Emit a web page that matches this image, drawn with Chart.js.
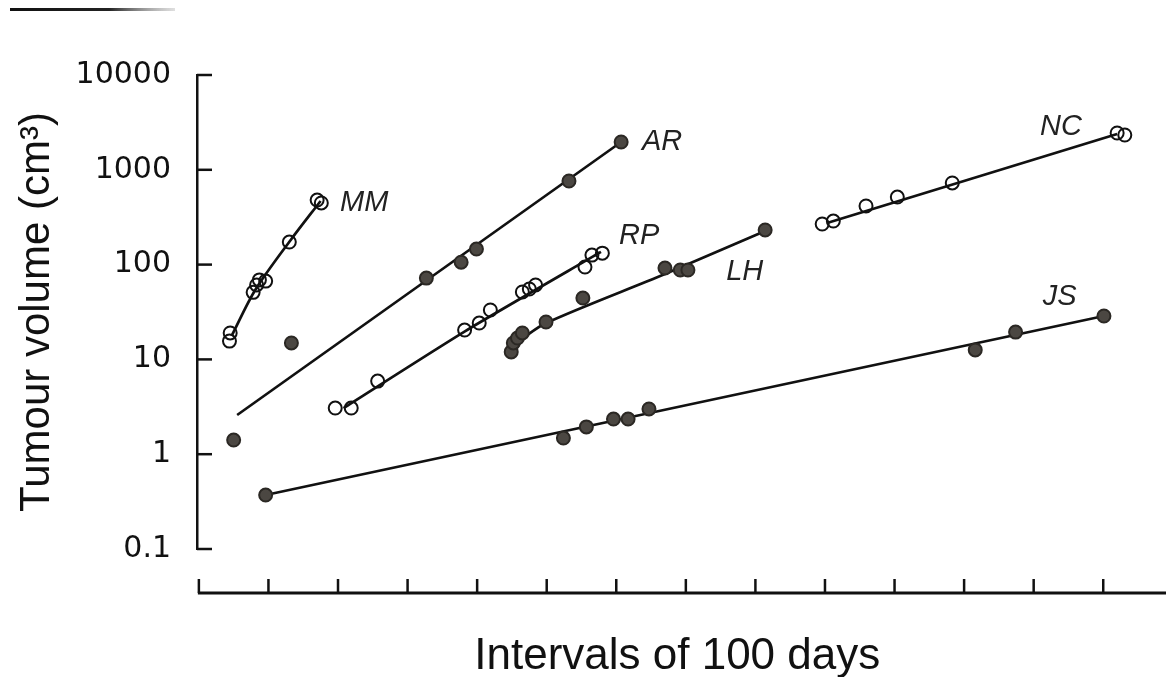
<!DOCTYPE html>
<html>
<head>
<meta charset="utf-8">
<title>Tumour volume</title>
<script src="https://cdn.jsdelivr.net/npm/chart.js@4.4.1/dist/chart.umd.min.js"></script>
<style>
  body { margin: 0; background: #fff; }
</style>
</head>
<body>
<canvas id="tumourChart" width="1166" height="677"></canvas>
<script>
// x in intervals of 100 days, y in cm3
var mmDays = [0.44, 0.45, 0.78, 0.83, 0.87, 0.96, 1.30, 1.70, 1.76];
var mmVol = [15.6, 19, 51, 61, 69, 67, 173, 480, 447];
var mmFitDays = [0.47, 0.81, 1.32, 1.75];
var mmFitVol = [17.7, 54, 182, 469];

var arDays = [0.50, 1.33, 3.27, 3.77, 3.99, 5.32, 6.07];
var arVol = [1.41, 14.9, 72, 106, 146, 762, 1964];
var arFitDays = [0.55, 6.07];
var arFitVol = [2.59, 1964];

var rpDays = [1.96, 2.19, 2.57, 3.82, 4.03, 4.19, 4.65, 4.75, 4.84, 5.55, 5.65, 5.80];
var rpVol = [3.07, 3.07, 5.9, 20.4, 24.2, 33.2, 51.4, 55.3, 61, 94.3, 126, 132];
var rpFitDays = [2.08, 3.83, 5.78];
var rpFitVol = [3.07, 19.9, 136];

var lhDays = [4.49, 4.52, 4.58, 4.65, 4.99, 5.52, 6.70, 6.92, 7.03, 8.14];
var lhVol = [12.0, 14.9, 16.8, 19.0, 24.8, 44.4, 92, 87.7, 87.7, 232];
var lhFitDays = [4.62, 4.99, 6.70, 8.14];
var lhFitVol = [16.0, 24.2, 79.6, 226];

var ncDays = [8.96, 9.12, 9.59, 10.04, 10.83, 13.20, 13.31];
var ncVol = [268, 288, 415, 516, 726, 2445, 2328];
var ncFitDays = [9.03, 13.20];
var ncFitVol = [275, 2385];

var jsDays = [0.96, 5.24, 5.57, 5.96, 6.17, 6.47, 11.16, 11.74, 13.01];
var jsVol = [0.371, 1.48, 1.94, 2.35, 2.35, 3.0, 12.6, 19.4, 28.7];
var jsFitDays = [0.96, 13.01];
var jsFitVol = [0.371, 28.7];

var patientNames = ["MM", "AR", "RP", "LH", "NC", "JS"];
var labelDays = [2.03, 6.37, 6.04, 7.58, 12.09, 12.13];
var labelVol = [447, 1964, 200, 83.6, 2828, 45.5];

var volumeTicks = [0.1, 1, 10, 100, 1000, 10000];
var dayTicks = [0, 1, 2, 3, 4, 5, 6, 7, 8, 9, 10, 11, 12, 13];

function pts(xs, ys) {
  return xs.map(function (x, i) { return { x: x, y: ys[i] }; });
}

function markers(name, xs, ys, filled) {
  return {
    label: name,
    data: pts(xs, ys),
    showLine: false,
    order: 0,
    pointStyle: 'circle',
    pointRadius: 6.5,
    pointBorderWidth: 2,
    pointBackgroundColor: filled ? "#4b4742" : "rgba(0,0,0,0)",
    pointBorderColor: filled ? "#2b2824" : "#111"
  };
}

function fitLine(name, xs, ys, tension) {
  return {
    label: name + " fit",
    data: pts(xs, ys),
    showLine: true,
    order: 1,
    pointRadius: 0,
    borderColor: "#111",
    borderWidth: 2.7,
    tension: tension
  };
}

var axisDecor = {
  id: 'axisDecor',
  afterDraw: function (chart) {
    var ctx = chart.ctx;
    var xs = chart.scales.x;
    var ys = chart.scales.y;
    var left = chart.chartArea.left;
    ctx.save();
    ctx.strokeStyle = "#111";
    ctx.lineWidth = 2.5;
    // y ticks pointing inwards
    volumeTicks.forEach(function (v) {
      var py = ys.getPixelForValue(v);
      ctx.beginPath();
      ctx.moveTo(left, py);
      ctx.lineTo(left + 15, py);
      ctx.stroke();
    });
    // detached x axis below the plot
    var axisY = chart.chartArea.bottom + 44;
    ctx.lineWidth = 3;
    ctx.beginPath();
    ctx.moveTo(xs.getPixelForValue(0) - 1, axisY);
    ctx.lineTo(chart.width, axisY);
    ctx.stroke();
    ctx.lineWidth = 2.5;
    dayTicks.forEach(function (d) {
      var px = xs.getPixelForValue(d);
      ctx.beginPath();
      ctx.moveTo(px, axisY);
      ctx.lineTo(px, axisY - 14);
      ctx.stroke();
    });
    // patient initials
    ctx.font = 'italic 29px "Liberation Sans", Arial, sans-serif';
    ctx.fillStyle = "#222";
    ctx.textAlign = 'left';
    ctx.textBaseline = 'middle';
    patientNames.forEach(function (n, i) {
      ctx.fillText(n, xs.getPixelForValue(labelDays[i]), ys.getPixelForValue(labelVol[i]));
    });
    // rule left over from the page above
    var g = ctx.createLinearGradient(10, 0, 175, 0);
    g.addColorStop(0, "#111");
    g.addColorStop(0.6, "#222");
    g.addColorStop(1, "rgba(150,150,150,0.3)");
    ctx.fillStyle = g;
    ctx.fillRect(10, 8, 165, 3);
    ctx.restore();
  }
};

var ctx = document.getElementById("tumourChart");
var tumourChart = new Chart(ctx, {
  type: 'scatter',
  data: {
    datasets: [
      markers("MM", mmDays, mmVol, false),
      markers("AR", arDays, arVol, true),
      markers("RP", rpDays, rpVol, false),
      markers("LH", lhDays, lhVol, true),
      markers("NC", ncDays, ncVol, false),
      markers("JS", jsDays, jsVol, true),
      fitLine("MM", mmFitDays, mmFitVol, 0.3),
      fitLine("AR", arFitDays, arFitVol, 0),
      fitLine("RP", rpFitDays, rpFitVol, 0.2),
      fitLine("LH", lhFitDays, lhFitVol, 0.3),
      fitLine("NC", ncFitDays, ncFitVol, 0),
      fitLine("JS", jsFitDays, jsFitVol, 0)
    ]
  },
  options: {
    responsive: false,
    animation: false,
    layout: { padding: { top: 75, left: 0, right: 0, bottom: 0 } },
    plugins: {
      legend: { display: false },
      tooltip: { enabled: false }
    },
    scales: {
      x: {
        type: 'linear',
        min: -0.027,
        max: 13.78,
        grid: { display: false, drawTicks: false },
        border: { display: false },
        ticks: { display: false },
        title: {
          display: true,
          text: 'Intervals of 100 days',
          color: "#111",
          font: { family: '"Liberation Sans", Arial, sans-serif', size: 44, lineHeight: 0.9 },
          padding: 0
        },
        afterFit: function (s) { s.height = 128; }
      },
      y: {
        type: 'logarithmic',
        min: 0.1,
        max: 10000,
        grid: { display: false, drawTicks: false },
        border: { display: true, color: "#111", width: 2.5 },
        afterBuildTicks: function (s) {
          s.ticks = volumeTicks.map(function (v) { return { value: v }; });
        },
        ticks: {
          padding: 26,
          color: "#111",
          font: { family: '"DejaVu Sans", sans-serif', size: 30 },
          callback: function (v) { return String(v); }
        },
        title: {
          display: true,
          text: 'Tumour volume (cm³)',
          color: "#111",
          font: { family: '"Liberation Sans", Arial, sans-serif', size: 42 },
          padding: { top: 12, bottom: 0 }
        },
        afterFit: function (s) { s.width = 197; }
      }
    }
  },
  plugins: [axisDecor]
});
</script>
</body>
</html>
